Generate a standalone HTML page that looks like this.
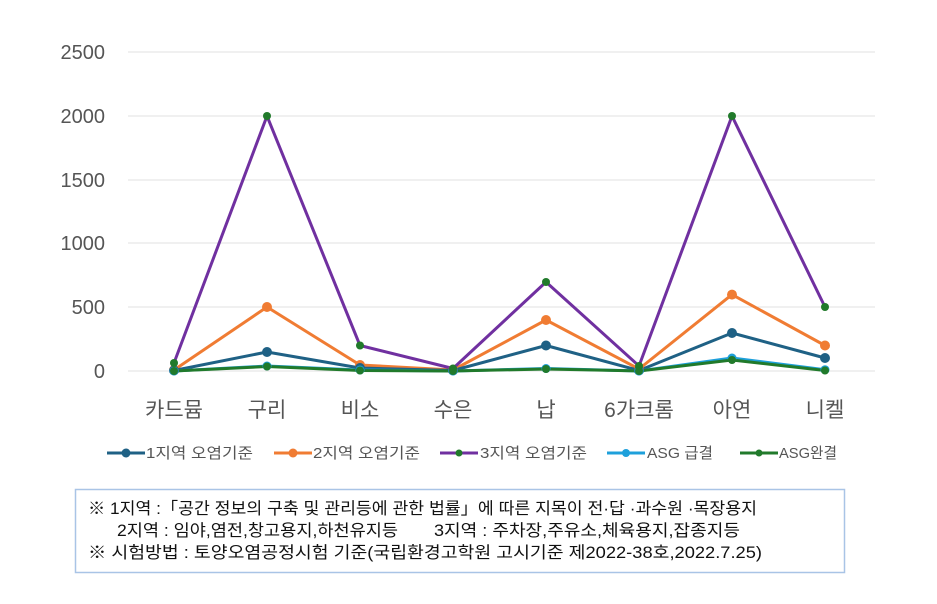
<!DOCTYPE html>
<html><head><meta charset="utf-8"><style>
body{margin:0;background:#fff;width:937px;height:604px;overflow:hidden;font-family:"Liberation Sans","Noto Sans CJK KR",sans-serif}
</style></head><body>
<svg width="937" height="604" xmlns="http://www.w3.org/2000/svg" style="position:absolute;left:0;top:0">
<g stroke="#e0e0e0" stroke-width="1">
<line x1="128" y1="52" x2="875" y2="52"/><line x1="128" y1="116" x2="875" y2="116"/><line x1="128" y1="180" x2="875" y2="180"/><line x1="128" y1="243" x2="875" y2="243"/><line x1="128" y1="307" x2="875" y2="307"/><line x1="128" y1="371" x2="875" y2="371"/>
</g>
<g font-family="Liberation Sans, Noto Sans CJK KR, sans-serif" font-size="20" fill="#555" text-anchor="end">
<text x="105" y="59">2500</text><text x="105" y="123">2000</text><text x="105" y="187">1500</text><text x="105" y="250">1000</text><text x="105" y="314">500</text><text x="105" y="378">0</text>
</g>
<g font-family="Liberation Sans, Noto Sans CJK KR, sans-serif" font-size="21" fill="#555" text-anchor="middle">
<text x="174" y="417">카드뮴</text><text x="267" y="417">구리</text><text x="360" y="417">비소</text><text x="453" y="417">수은</text><text x="546" y="417">납</text><text x="639" y="417">6가크롬</text><text x="732" y="417">아연</text><text x="825" y="417">니켈</text>
</g>
<g fill="none" stroke-width="3" stroke-linejoin="round">
<polyline stroke="#f07c33" points="174,370 267,307 360,365 453,370 546,320 639,369 732,294.6 825,345.5"/>
<polyline stroke="#7030a0" points="174,363 267,116 360,345.5 453,368.5 546,282 639,366 732,116 825,307"/>
<polyline stroke="#1f6185" points="174,370.5 267,352 360,368 453,370.5 546,345.5 639,370.5 732,333 825,358"/>
<polyline stroke="#1ea0db" points="174,371 267,366 360,370 453,371 546,368.5 639,371 732,358 825,369.7"/>
<polyline stroke="#217a2b" points="174,371 267,366.5 360,370.5 453,371 546,369 639,371 732,360 825,370.5"/>
</g>
<g fill="#f07c33"><circle cx="174" cy="370" r="5"/><circle cx="267" cy="307" r="5"/><circle cx="360" cy="365" r="5"/><circle cx="453" cy="370" r="5"/><circle cx="546" cy="320" r="5"/><circle cx="639" cy="369" r="5"/><circle cx="732" cy="294.6" r="5"/><circle cx="825" cy="345.5" r="5"/></g>
<g fill="#1f6185"><circle cx="174" cy="370.5" r="5"/><circle cx="267" cy="352" r="5"/><circle cx="360" cy="368" r="5"/><circle cx="453" cy="370.5" r="5"/><circle cx="546" cy="345.5" r="5"/><circle cx="639" cy="370.5" r="5"/><circle cx="732" cy="333" r="5"/><circle cx="825" cy="358" r="5"/></g>
<g fill="#1ea0db"><circle cx="174" cy="371" r="4.5"/><circle cx="267" cy="366" r="4.5"/><circle cx="360" cy="370" r="4.5"/><circle cx="453" cy="371" r="4.5"/><circle cx="546" cy="368.5" r="4.5"/><circle cx="639" cy="371" r="4.5"/><circle cx="732" cy="358" r="4.5"/><circle cx="825" cy="369.7" r="4.5"/></g>
<g fill="#217a2b"><circle cx="174" cy="363" r="4"/><circle cx="267" cy="116" r="4"/><circle cx="360" cy="345.5" r="4"/><circle cx="453" cy="368.5" r="4"/><circle cx="546" cy="282" r="4"/><circle cx="639" cy="366" r="4"/><circle cx="732" cy="116" r="4"/><circle cx="825" cy="307" r="4"/>
<circle cx="174" cy="371" r="4"/><circle cx="267" cy="366.5" r="4"/><circle cx="360" cy="370.5" r="4"/><circle cx="453" cy="371" r="4"/><circle cx="546" cy="369" r="4"/><circle cx="639" cy="371" r="4"/><circle cx="732" cy="360" r="4"/><circle cx="825" cy="370.5" r="4"/></g>
<g font-family="Liberation Sans, Noto Sans CJK KR, sans-serif" font-size="15" fill="#555" stroke-width="3">
<line x1="107" y1="453" x2="145" y2="453" stroke="#1f6185"/><circle cx="126" cy="453" r="4.5" fill="#1f6185"/><text x="146" y="458" textLength="107" lengthAdjust="spacingAndGlyphs">1지역 오염기준</text>
<line x1="274" y1="453" x2="312" y2="453" stroke="#f07c33"/><circle cx="293" cy="453" r="4.5" fill="#f07c33"/><text x="313" y="458" textLength="107" lengthAdjust="spacingAndGlyphs">2지역 오염기준</text>
<line x1="440" y1="453" x2="478" y2="453" stroke="#7030a0"/><circle cx="459" cy="453" r="3.5" fill="#217a2b"/><text x="480" y="458" textLength="107" lengthAdjust="spacingAndGlyphs">3지역 오염기준</text>
<line x1="607" y1="453" x2="645" y2="453" stroke="#1ea0db"/><circle cx="626" cy="453" r="4" fill="#1ea0db"/><text x="647" y="458" textLength="66" lengthAdjust="spacingAndGlyphs">ASG 급결</text>
<line x1="740" y1="453" x2="778" y2="453" stroke="#217a2b"/><circle cx="759" cy="453" r="3.5" fill="#217a2b"/><text x="779" y="458" textLength="58" lengthAdjust="spacingAndGlyphs">ASG완결</text>
</g>
<rect x="75.5" y="489.5" width="769" height="83" fill="#fff" stroke="#a9c4e6" stroke-width="1.5"/>
<g font-family="Liberation Sans, Noto Sans CJK KR, sans-serif" font-size="16.5" fill="#111">
<text x="88" y="514" textLength="669" lengthAdjust="spacingAndGlyphs">※ 1지역 :「공간 정보의 구축 및 관리등에 관한 법률」에 따른 지목이 전·답 ·과수원 ·목장용지</text>
<text x="117" y="536" textLength="281" lengthAdjust="spacingAndGlyphs">2지역 : 임야,염전,창고용지,하천유지등</text>
<text x="434" y="536" textLength="306" lengthAdjust="spacingAndGlyphs">3지역 : 주차장,주유소,체육용지,잡종지등</text>
<text x="88" y="558" textLength="674" lengthAdjust="spacingAndGlyphs">※ 시험방법 : 토양오염공정시험 기준(국립환경고학원 고시기준 제2022-38호,2022.7.25)</text>
</g>
</svg>
</body></html>
